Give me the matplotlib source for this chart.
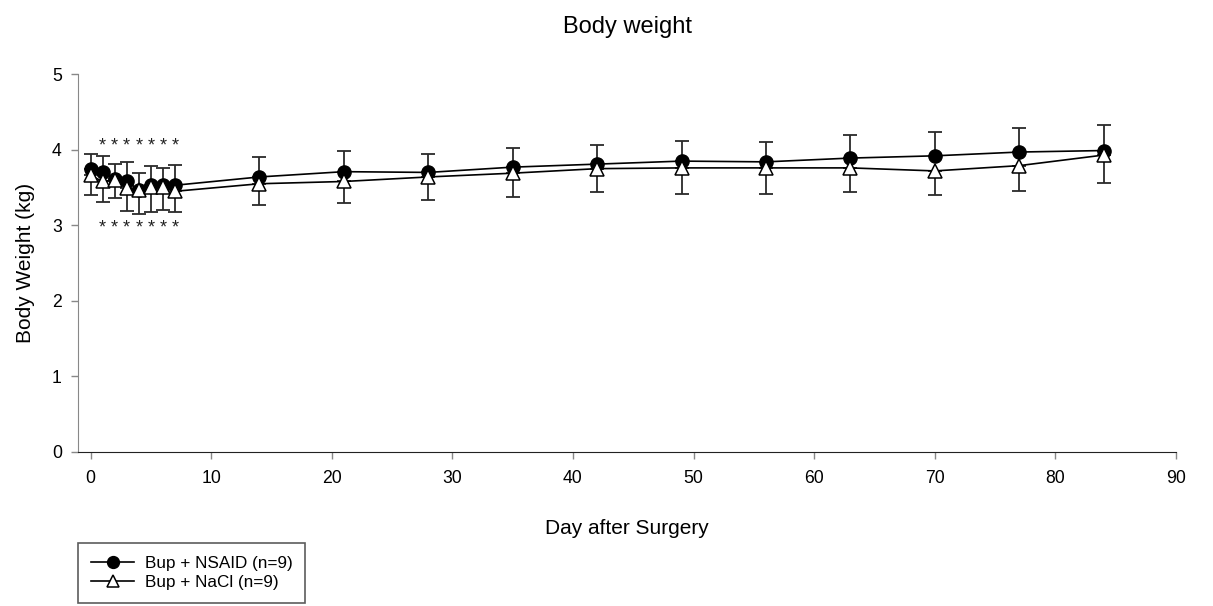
import numpy as np
import matplotlib.pyplot as plt

plt.rcParams["font.family"] = ["Liberation Sans", "DejaVu Sans"]

days = [0, 1, 2, 3, 4, 5, 6, 7, 14, 21, 28, 35, 42, 49, 56, 63, 70, 77, 84]
nsaid = [3.74, 3.71, 3.61, 3.58, 3.47, 3.54, 3.53, 3.53, 3.64, 3.71, 3.70, 3.77,
         3.81, 3.85, 3.84, 3.89, 3.92, 3.97, 3.99]
nsaid_upper = [3.94, 3.92, 3.81, 3.84, 3.69, 3.79, 3.76, 3.80, 3.91, 3.98, 3.95, 4.03,
               4.06, 4.11, 4.10, 4.19, 4.24, 4.29, 4.33]
nacl = [3.66, 3.58, 3.60, 3.49, 3.47, 3.51, 3.51, 3.45, 3.55, 3.58, 3.64, 3.69,
        3.75, 3.76, 3.76, 3.76, 3.72, 3.79, 3.93]
nacl_lower = [3.40, 3.31, 3.36, 3.19, 3.15, 3.18, 3.20, 3.17, 3.27, 3.30, 3.33, 3.37,
              3.44, 3.41, 3.41, 3.44, 3.40, 3.46, 3.56]
star_days = [1, 2, 3, 4, 5, 6, 7]

nsaid = np.array(nsaid)
nacl = np.array(nacl)
err_up = np.array(nsaid_upper) - nsaid
err_dn = nacl - np.array(nacl_lower)
zeros = np.zeros(len(days))

fig = plt.figure(figsize=(12.13, 6.06), dpi=100)
ax = fig.add_axes([0.0647, 0.2546, 0.9048, 0.6228])

ax.errorbar(days, nacl, yerr=[err_dn, zeros], fmt="none", ecolor="#2a2a2a",
            elinewidth=1.3, capsize=5.3, capthick=1.3, zorder=2)
ax.errorbar(days, nsaid, yerr=[zeros, err_up], fmt="none", ecolor="#2a2a2a",
            elinewidth=1.3, capsize=5.3, capthick=1.3, zorder=2)
ax.plot(days, nsaid, color="black", lw=1.2, marker="o", ms=9.5,
        mfc="black", mec="black", label="Bup + NSAID (n=9)", zorder=3)
ax.plot(days, nacl, color="black", lw=1.2, marker="^", ms=9.5,
        mfc="white", mec="black", mew=1.1, label="Bup + NaCl (n=9)", zorder=4)

# significance markers above and below the early points
for d in star_days:
    ax.text(d, 4.05, "*", ha="center", va="center", fontsize=13, color="#222222")
    ax.text(d, 2.96, "*", ha="center", va="center", fontsize=13, color="#222222")

ax.set_xlim(-1, 90)
ax.set_ylim(0, 5)
ax.set_xticks(range(0, 91, 10))
ax.set_yticks(range(0, 6))
ax.spines["top"].set_visible(False)
ax.spines["right"].set_visible(False)
ax.spines["left"].set_color("#888888")
ax.spines["bottom"].set_color("#222222")
ax.tick_params(direction="out", length=5, width=1, color="#888888", labelsize=12.7)
ax.tick_params(axis="x", pad=8)
ax.tick_params(axis="y", pad=7)
ax.set_xlabel("Day after Surgery", fontsize=15, labelpad=23)
ax.set_ylabel("Body Weight (kg)", fontsize=15, labelpad=12)
ax.set_title("Body weight", fontsize=17, pad=30)

leg = fig.legend(loc="lower left", bbox_to_anchor=(78 / 1213, 3 / 606), fontsize=12.3,
                 frameon=True, fancybox=False, edgecolor="#333333", handlelength=2.55,
                 handletextpad=0.6, borderpad=0.75, labelspacing=0.25,
                 borderaxespad=0, markerscale=0.9)
leg.get_frame().set_linewidth(1.2)

fig.savefig("out.png", dpi=100)
